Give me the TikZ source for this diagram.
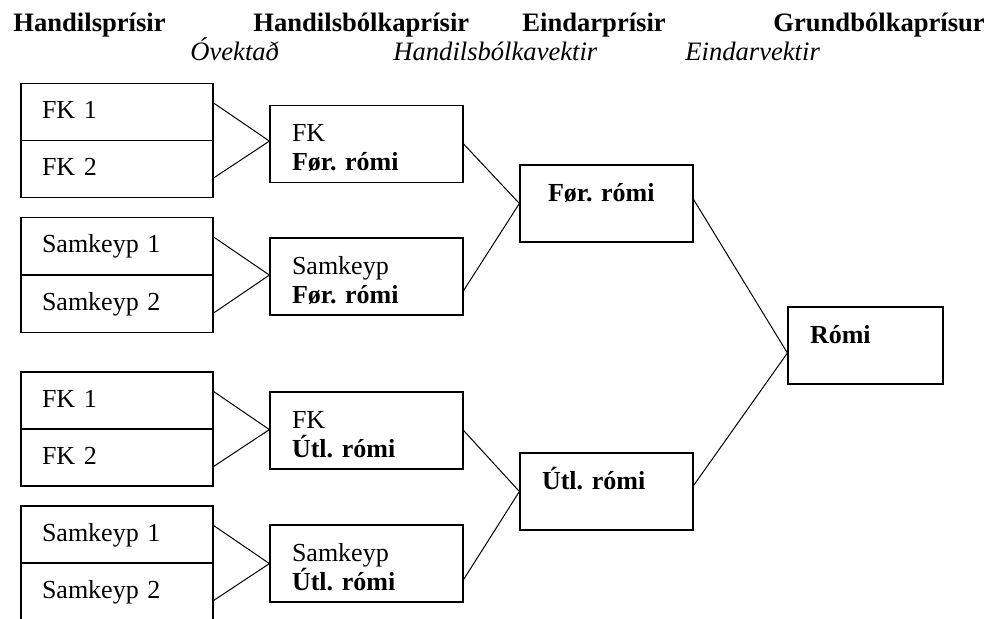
\documentclass[tikz,border=0pt]{standalone}
\usepackage{fontspec}
\setmainfont{Liberation Serif}
\frenchspacing

\tikzset{
  box/.style={draw, line width=0.6pt, inner ysep=0pt, execute at begin node=\raggedright, text height=9pt},
  leaf/.style={box, text width=75pt, inner xsep=10.5pt, minimum height=28.5pt, text depth=2pt},
  group/.style={box, text width=74.5pt, inner xsep=11pt, minimum height=38.5pt, text depth=11pt},
  total/.style={box, inner xsep=11pt, minimum height=38.5pt, text depth=11pt},
  head/.style={anchor=base west, inner sep=0pt, font=\fontsize{13.3}{15}\selectfont\bfseries},
  sub/.style={anchor=base west, inner sep=0pt, font=\fontsize{13.3}{15}\selectfont\itshape},
  link/.style={line width=0.5pt}
}

\begin{document}
\begin{tikzpicture}[x=0.5pt, y=-0.5pt, font=\fontsize{13}{14.5}\selectfont]
 \useasboundingbox (0,0) rectangle (997,619);

 % column heads
 \node[head] (h1) at (13,32)  {Handilsprísir};
 \node[head] (h2) at (253,32) {Handilsbólkaprísir};
 \node[head] (h3) at (522,32) {Eindarprísir};
 \node[head] (h4) at (773,32) {Grundbólkaprísur};
 \node[sub] (s1) at (190,61) {Óvektað};
 \node[sub] (s2) at (393,61) {Handilsbólkavektir};
 \node[sub] (s3) at (685,61) {Eindarvektir};

 % handilsprísir
 \node[leaf] (fkf1) at (117,112)   {FK 1};
 \node[leaf] (fkf2) at (117,169)   {FK 2};
 \node[leaf] (skf1) at (117,246)   {Samkeyp 1};
 \node[leaf] (skf2) at (117,304)   {Samkeyp 2};
 \node[leaf] (fku1) at (117,400.5) {FK 1};
 \node[leaf] (fku2) at (117,457.5) {FK 2};
 \node[leaf] (sku1) at (117,534.5) {Samkeyp 1};
 \node[leaf] (sku2) at (117,591.5) {Samkeyp 2};

 % handilsbólkaprísir
 \node[group] (fkfor) at (366.5,144)   {FK\\\textbf{Før. rómi}};
 \node[group] (skfor) at (366.5,276.5) {Samkeyp\\\textbf{Før. rómi}};
 \node[group] (fkutl) at (366.5,430.5) {FK\\\textbf{Útl. rómi}};
 \node[group] (skutl) at (366.5,563.5) {Samkeyp\\\textbf{Útl. rómi}};

 % eindarprísir
 \node[total, text width=58.5pt, inner xsep=14pt] (forsum) at (606.5,203.5) {\textbf{Før. rómi}};
 \node[total, text width=64.5pt] (utlsum) at (606.5,491.5) {\textbf{Útl. rómi}};

 % grundbólkaprísur
 \node[total, text width=55.5pt] (romi) at (865.5,345.5) {\textbf{Rómi}};

 \draw[link] ([yshift=4.5pt]fkf1.east) -- (fkfor.west |- fkf1.south) -- ([yshift=-4.5pt]fkf2.east);
 \draw[link] ([yshift=4.5pt]skf1.east) -- (skfor.west |- skf1.south) -- ([yshift=-4.5pt]skf2.east);
 \draw[link] ([yshift=4.5pt]fku1.east) -- (fkutl.west |- fku1.south) -- ([yshift=-4.5pt]fku2.east);
 \draw[link] ([yshift=4.5pt]sku1.east) -- (skutl.west |- sku1.south) -- ([yshift=-4.5pt]sku2.east);

 \draw[link] (fkfor.east) -- (forsum.west) -- ([yshift=-7pt]skfor.east);
 \draw[link] (fkutl.east) -- (utlsum.west) -- ([yshift=-8pt]skutl.east);

 \draw[link] ([yshift=2pt]forsum.east) -- ([yshift=-3.75pt]romi.west) -- ([yshift=3pt]utlsum.east);
\end{tikzpicture}
\end{document}
